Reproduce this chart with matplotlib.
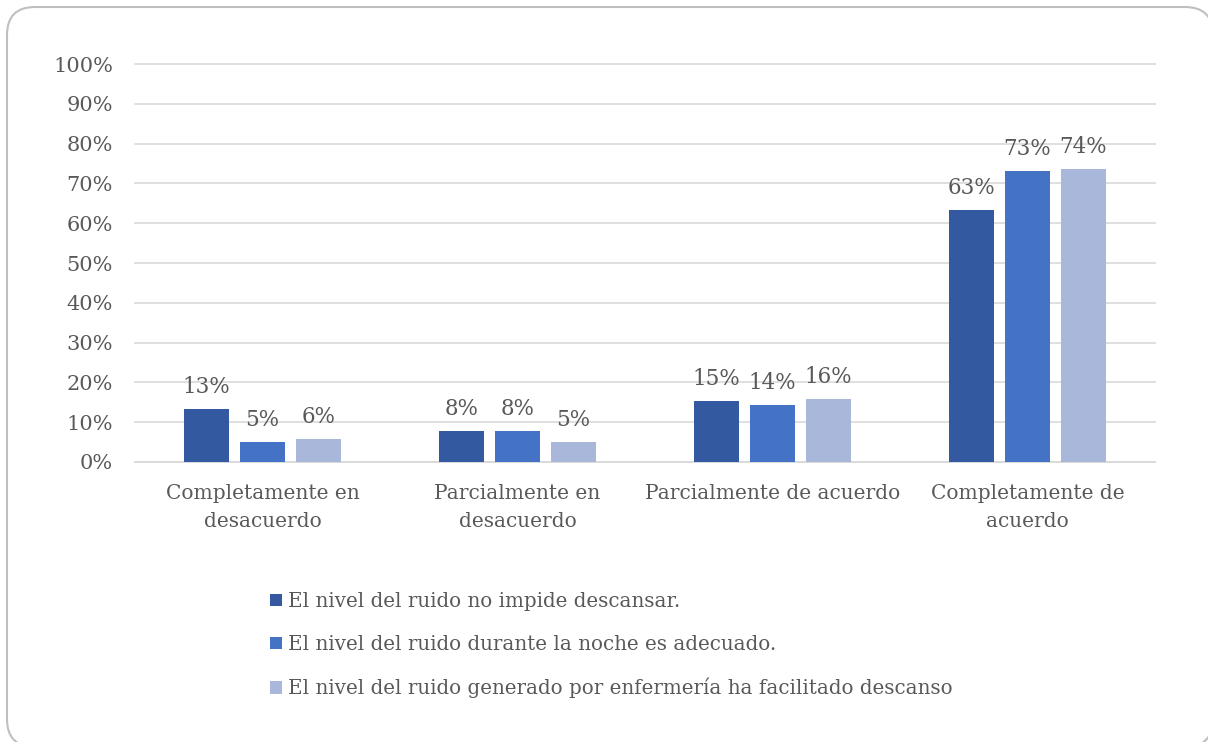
import numpy as np
import matplotlib
matplotlib.use('Agg')
import matplotlib.pyplot as plt
from matplotlib.patches import FancyBboxPatch

# Chart data
categories = ['Completamente en\ndesacuerdo', 'Parcialmente en\ndesacuerdo',
              'Parcialmente de acuerdo', 'Completamente de\nacuerdo']
series_names = ['El nivel del ruido no impide descansar.',
                'El nivel del ruido durante la noche es adecuado.',
                'El nivel del ruido generado por enfermería ha facilitado descanso']
no_impide = [13.4, 7.8, 15.4, 63.4]
noche = [5.0, 7.8, 14.3, 73.1]
enfermeria = [5.8, 5.0, 15.9, 73.6]
yticks = list(range(0, 101, 10))

colors = ['#335AA1', '#4472C4', '#A9B7DB']
text_color = '#595959'
font = 'DejaVu Serif'

fig = plt.figure(figsize=(12.08, 7.42), dpi=100)

# rounded border behind everything (pixel coordinates)
bg = fig.add_axes([0, 0, 1, 1], zorder=-1)
bg.set_xlim(0, 1208)
bg.set_ylim(742, 0)
bg.axis('off')
bg.add_patch(FancyBboxPatch((7, 7), 1206, 740,
                            boxstyle='round,pad=0,rounding_size=28',
                            fc='white', ec='#BFBFBF', lw=1.5))

ax = fig.add_axes([0.1118, 0.3774, 0.8442, 0.5363])
x = np.arange(len(categories))
step = 0.22
width = 0.176
for i, (vals, c, name) in enumerate(zip([no_impide, noche, enfermeria], colors, series_names)):
    bars = ax.bar(x + (i - 1) * step, vals, width, color=c, label=name, zorder=3)
    for b, v in zip(bars, vals):
        ax.annotate(f'{round(v):.0f}%', (b.get_x() + b.get_width() / 2, v),
                    xytext=(0, 8), textcoords='offset points', ha='center', va='bottom',
                    fontsize=15.5, color=text_color, family=font)

ax.set_xlim(-0.5, len(categories) - 0.5)
ax.set_ylim(0, 100)
ax.set_yticks(yticks)
ax.set_yticklabels([f'{t}%' for t in yticks], fontsize=15, color=text_color, family=font)
ax.set_xticks(x)
ax.set_xticklabels(categories, fontsize=14.5, color=text_color, family=font, linespacing=1.6)
ax.tick_params(axis='both', length=0)
ax.tick_params(axis='y', pad=16)
ax.tick_params(axis='x', pad=16)
ax.grid(axis='y', color='#D9D9D9', lw=1.2, zorder=0)
for gl in ax.yaxis.get_gridlines():
    gl.set_clip_on(False)
for s in ['top', 'right', 'left']:
    ax.spines[s].set_visible(False)
ax.spines['bottom'].set_color('#D9D9D9')
ax.spines['bottom'].set_linewidth(1.2)

leg = fig.legend(loc='upper left', bbox_to_anchor=(0.215, 0.2155), frameon=False,
                 prop={'family': font, 'size': 14.3},
                 labelcolor=text_color, handlelength=0.6, handleheight=0.6,
                 handletextpad=0.3, labelspacing=1.2, borderpad=0)

fig.savefig('out.png', dpi=100)
